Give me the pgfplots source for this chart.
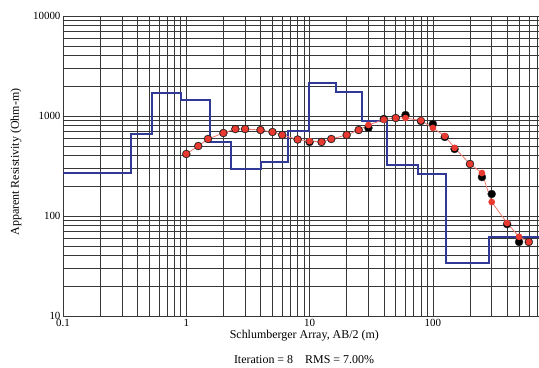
\documentclass[border=0pt]{standalone}
\usepackage{fontspec}
\setmainfont{Liberation Serif}
\usepackage{pgfplots}
\pgfplotsset{compat=1.18}
\definecolor{modelblue}{RGB}{48,58,150}
\definecolor{calcred}{RGB}{232,58,48}
\definecolor{calcline}{RGB}{240,120,110}
\definecolor{gridc}{RGB}{55,55,55}
\begin{document}
\begin{tikzpicture}[x=1bp,y=1bp]
\path[use as bounding box] (-63,-51) rectangle (476,16+300);
\begin{axis}[at={(0,0)}, anchor=south west, scale only axis,
  width=476bp, height=300bp,
  xmode=log, ymode=log,
  xmin=0.1, xmax=726, ymin=10, ymax=10000,
  xtick={0.1,1,10,100}, xticklabels={0.1,1,10,100},
  ytick={10,100,1000,10000}, yticklabels={10,100,1000,10000},
  minor xtick={0.2,0.3,0.4,0.5,0.6,0.7,0.8,0.9,2,3,4,5,6,7,8,9,20,30,40,50,60,70,80,90,200,300,400,500,600,700},
  minor ytick={20,30,40,50,60,70,80,90,200,300,400,500,600,700,800,900,2000,3000,4000,5000,6000,7000,8000,9000},
  grid=both,
  major grid style={draw=gridc, line width=0.6pt},
  minor grid style={draw=gridc, line width=0.6pt},
  axis line style={draw=none},
  tick style={draw=none},
  xticklabel style={font=\fontsize{11}{12}\selectfont, yshift=0bp},
  yticklabel style={font=\fontsize{11}{12}\selectfont, xshift=1bp},
  /pgf/number format/assume math mode=true,
  xlabel={Schlumberger Array, AB/2 (m)},
  ylabel={Apparent Resistivity (Ohm-m)},
  xlabel style={font=\fontsize{12}{14}\selectfont, at={(axis description cs:0.507,-0.065)}, anchor=center},
  ylabel style={font=\fontsize{12}{14}\selectfont, at={(axis description cs:-0.0987,0.513)}, anchor=center},
]
\addplot[const plot, draw=modelblue, line width=2bp] coordinates {
(0.1,269) (0.356,668) (0.527,1679) (0.905,1445) (1.55,550) (2.3,295)
(4.03,347) (6.68,708) (9.9,2138) (16.4,1738) (26.6,881) (42.4,324)
(75.7,263) (128,33.5) (285,61.7) (726,61.7)};
\addplot[only marks, mark=*, mark size=4bp, mark options={fill=black, draw=black!80}] coordinates {
(1,417) (1.25,501) (1.5,589) (2,676) (2.5,741) (3,741) (4,724) (5,692)
(6,646) (8,582) (10,550) (12.5,550) (15,589) (20,646) (25,724) (30,759)
(40,933) (50,955) (60,1023) (80,891) (100,832) (125,617) (150,468)
(200,331) (250,245) (300,166) (400,83) (500,55) (600,55)};
\addplot[draw=calcline, line width=0.8bp, mark=*, mark size=2.9bp, mark options={fill=calcred, draw=calcred}] coordinates {
(1,417) (1.25,501) (1.5,589) (2,676) (2.5,741) (3,741) (4,724) (5,692)
(6,646) (8,582) (10,560) (12.5,550) (15,589) (20,646) (25,724) (30,813)
(40,920) (50,955) (60,955) (80,900) (100,760) (125,630) (150,480)
(200,331) (250,269) (300,138) (400,85) (500,62) (600,55)};
\end{axis}
\node[font=\fontsize{12}{14}\selectfont] at (241,-44) {Iteration = 8\quad RMS = 7.00\%};
\end{tikzpicture}
\end{document}
